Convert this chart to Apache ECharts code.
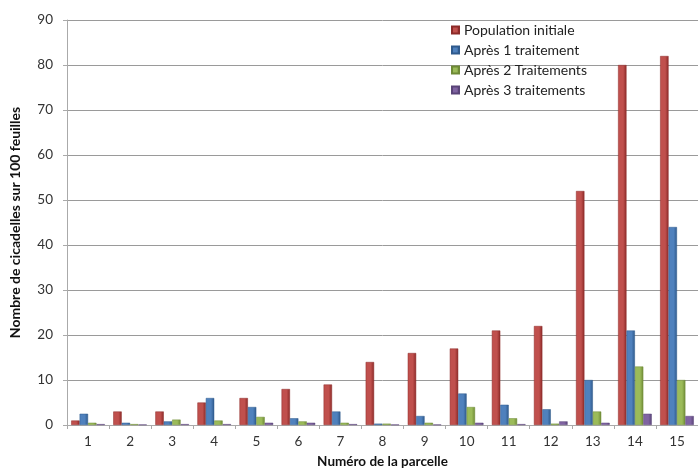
<!DOCTYPE html>
<html><head><meta charset="utf-8">
<script src="https://cdn.jsdelivr.net/npm/echarts@6/dist/echarts.min.js"></script>
<style>html,body{margin:0;padding:0;background:#fff}#c{width:698px;height:470px}</style>
</head><body><div id="c"></div>
<script>
const categories = ['1','2','3','4','5','6','7','8','9','10','11','12','13','14','15'];
const popInitiale = [1, 3, 3, 5, 6, 8, 9, 14, 16, 17, 21, 22, 52, 80, 82];
const apres1 = [2.5, 0.5, 0.8, 6, 4, 1.5, 3, 0.3, 2, 7, 4.5, 3.5, 10, 21, 44];
const apres2 = [0.5, 0.2, 1.2, 1, 1.8, 0.8, 0.5, 0.3, 0.5, 4, 1.5, 0.3, 3, 13, 10];
const apres3 = [0.2, 0.1, 0.2, 0.2, 0.5, 0.5, 0.2, 0.1, 0.1, 0.5, 0.2, 0.8, 0.5, 2.5, 2];
const seriesNames = ['Population initiale', 'Après 1 traitement', 'Après 2 Traitements', 'Après 3 traitements'];
const colors = ['#C0504D', '#4F81BD', '#9BBB59', '#8064A2'];
const edge = ['#8c2a28', '#2f5a8c', '#6e8a36', '#5a4478'];
const font = 'Lato, "Open Sans", sans-serif';
const chart = echarts.init(document.getElementById('c'));
const data = [popInitiale, apres1, apres2, apres3];
chart.setOption({
  animation: false,
  textStyle: {fontFamily: font},
  legend: {
    orient: 'vertical', left: 446, top: 18, itemWidth: 7, itemHeight: 7, itemGap: 6,
    icon: 'rect',
    textStyle: {fontFamily: font, fontSize: 14, color: '#222'},
    data: seriesNames
  },
  grid: {left: 67, right: 0, top: 20, bottom: 45, containLabel: false, outerBoundsMode: 'none'},
  xAxis: {
    type: 'category', data: categories,
    name: 'Numéro de la parcelle', nameLocation: 'middle', nameGap: 30,
    nameTextStyle: {fontFamily: font, fontWeight: 'bold', fontSize: 13.5, color: '#111'},
    axisLine: {lineStyle: {color: '#aaa'}},
    axisTick: {show: true, length: 4, lineStyle: {color: '#aaa'}},
    axisLabel: {fontFamily: font, fontSize: 13.5, color: '#333', margin: 10}
  },
  yAxis: {
    type: 'value', min: 0, max: 90, interval: 10,
    name: 'Nombre de cicadelles sur 100 feuilles', nameLocation: 'middle', nameGap: 45,
    nameTextStyle: {fontFamily: font, fontWeight: 'bold', fontSize: 14, color: '#111'},
    axisLine: {show: true, lineStyle: {color: '#aaa'}},
    axisTick: {show: true, length: 4, lineStyle: {color: '#aaa'}},
    axisLabel: {fontFamily: font, fontSize: 13.5, color: '#333', margin: 14},
    splitLine: {lineStyle: {color: '#9a9a9a'}}
  },
  series: seriesNames.map((n, i) => ({
    name: n, type: 'bar', data: data[i],
    barGap: '0%', barCategoryGap: '20%',
    itemStyle: {
      color: new echarts.graphic.LinearGradient(0, 0, 1, 0, [
        {offset: 0, color: colors[i]}, {offset: 0.6, color: colors[i]}, {offset: 1, color: edge[i]}
      ]),
      borderColor: edge[i], borderWidth: 0.5
    }
  }))
});
</script></body></html>
